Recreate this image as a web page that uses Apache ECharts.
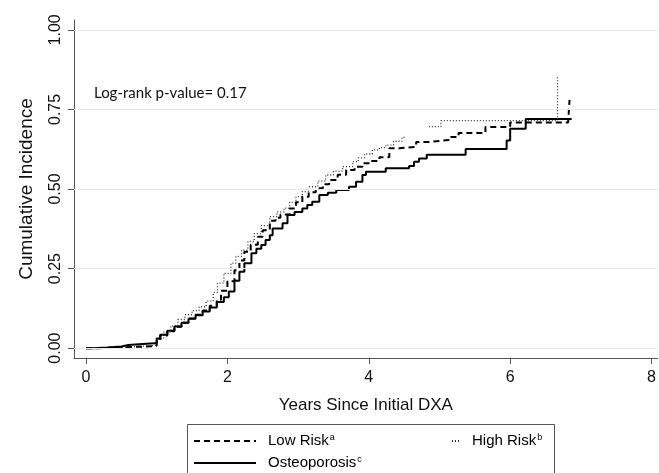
<!DOCTYPE html>
<html>
<head>
<meta charset="utf-8">
<script src="https://cdn.jsdelivr.net/npm/echarts@6/dist/echarts.min.js"></script>
<style>html,body{margin:0;padding:0;background:#fff}#c{width:659px;height:473px}</style>
</head>
<body>
<div id="c"></div>
<script>
const xTicks = [0, 2, 4, 6, 8];
const yTicks = [0, 0.25, 0.5, 0.75, 1];
const seriesNames = ['Low Risk', 'High Risk', 'Osteoporosis'];
const superscripts = {'Low Risk': 'a', 'High Risk': 'b', 'Osteoporosis': 'c'};
const annotation = 'Log-rank p-value= 0.17';

const lowRisk = [[0,0],[0.2,0.002],[0.5,0.004],[0.7,0.006],[0.97,0.008],[1.0,0.025],[1.05,0.04],[1.15,0.053],[1.25,0.067],[1.35,0.08],[1.45,0.093],[1.55,0.105],[1.65,0.118],[1.75,0.133],[1.85,0.152],[1.91,0.18],[2.0,0.21],[2.1,0.245],[2.17,0.275],[2.24,0.303],[2.33,0.325],[2.43,0.35],[2.5,0.37],[2.6,0.4],[2.68,0.41],[2.75,0.42],[2.88,0.439],[2.97,0.458],[3.06,0.476],[3.15,0.49],[3.25,0.502],[3.35,0.515],[3.44,0.528],[3.56,0.545],[3.68,0.56],[3.8,0.57],[3.91,0.581],[4.0,0.588],[4.15,0.6],[4.29,0.628],[4.43,0.632],[4.67,0.648],[4.85,0.654],[5.13,0.663],[5.27,0.676],[5.65,0.695],[6.0,0.709],[6.82,0.709],[6.84,0.78]];

const highRisk = [[0,0],[0.3,0.004],[0.6,0.008],[0.97,0.012],[1.0,0.03],[1.1,0.05],[1.2,0.07],[1.3,0.09],[1.4,0.105],[1.5,0.118],[1.6,0.13],[1.7,0.148],[1.8,0.175],[1.86,0.204],[1.95,0.235],[2.05,0.267],[2.12,0.288],[2.2,0.308],[2.29,0.335],[2.38,0.36],[2.48,0.385],[2.6,0.413],[2.7,0.428],[2.8,0.44],[2.88,0.458],[2.97,0.476],[3.06,0.492],[3.16,0.507],[3.28,0.525],[3.39,0.544],[3.5,0.556],[3.63,0.57],[3.77,0.586],[3.85,0.598],[3.94,0.61],[4.05,0.623],[4.15,0.63],[4.24,0.638],[4.35,0.65],[4.47,0.66],[4.5,0.665],[4.5,null],[4.85,0.696],[5.02,0.696],[5.02,0.715],[6.67,0.715],[6.67,0.852]];

const osteoporosis = [[0,0],[0.1,0.002],[0.3,0.005],[0.5,0.01],[0.6,0.013],[0.8,0.015],[0.97,0.017],[1.0,0.03],[1.05,0.042],[1.15,0.055],[1.25,0.068],[1.35,0.08],[1.45,0.092],[1.55,0.103],[1.65,0.115],[1.75,0.128],[1.85,0.145],[1.95,0.16],[2.02,0.178],[2.1,0.212],[2.17,0.24],[2.24,0.267],[2.34,0.298],[2.41,0.312],[2.48,0.324],[2.54,0.34],[2.6,0.355],[2.64,0.376],[2.78,0.392],[2.85,0.418],[2.95,0.428],[3.06,0.439],[3.13,0.45],[3.2,0.46],[3.3,0.481],[3.42,0.488],[3.54,0.497],[3.72,0.507],[3.82,0.523],[3.91,0.544],[3.96,0.554],[4.24,0.565],[4.57,0.572],[4.64,0.586],[4.71,0.596],[4.82,0.608],[5.37,0.626],[5.95,0.652],[6.0,0.689],[6.22,0.72],[6.87,0.72]];

const FONT = '"Liberation Sans", Arial, sans-serif';
const chart = echarts.init(document.getElementById('c'), null, {renderer: 'canvas'});

const rich = {
  n: {fontSize: 15, fontFamily: FONT, color: '#000', padding: [0, 0, 0, 7]},
  s: {fontSize: 9, fontFamily: FONT, color: '#000', verticalAlign: 'top', padding: [0, 0, 7, 1]}
};
function legendCfg(name, left, top, w) {
  return {
    data: [name], left: left, top: top, orient: 'horizontal', padding: 0,
    itemWidth: w, itemHeight: 12, selectedMode: false,
    itemStyle: {opacity: 0},
    formatter: n => '{n|' + n + '}{s|' + superscripts[n] + '}',
    textStyle: {rich: rich}
  };
}

chart.setOption({
  animation: false,
  backgroundColor: '#fff',
  grid: {left: 74, right: 0, top: 20, bottom: 115},
  xAxis: {
    type: 'value', min: -0.17, max: 8.085,
    name: 'Years Since Initial DXA', nameLocation: 'middle', nameGap: 39,
    nameTextStyle: {fontSize: 17, fontFamily: FONT, color: '#111'},
    axisLine: {show: true, onZero: false, lineStyle: {color: '#555', width: 1}},
    axisTick: {show: true, customValues: xTicks, length: 6, lineStyle: {color: '#555'}},
    axisLabel: {customValues: xTicks, fontSize: 16, fontFamily: FONT, color: '#111', margin: 12},
    splitLine: {show: false}
  },
  yAxis: {
    type: 'value', min: -0.031, max: 1.031,
    name: 'Cumulative Incidence', nameLocation: 'middle', nameGap: 38,
    nameTextStyle: {fontSize: 19, fontFamily: FONT, color: '#111'},
    axisLine: {show: true, onZero: false, lineStyle: {color: '#555', width: 1}},
    axisTick: {show: true, customValues: yTicks, length: 6, lineStyle: {color: '#555'}},
    axisLabel: {customValues: yTicks, rotate: 90, fontSize: 16, fontFamily: FONT, color: '#111', margin: 10,
      formatter: v => v.toFixed(2)},
    splitLine: {show: false}
  },
  legend: [
    legendCfg('Low Risk', 193, 433, 62),
    legendCfg('High Risk', 451, 433, 8),
    legendCfg('Osteoporosis', 193, 455, 62)
  ],
  graphic: [
    {type: 'rect', left: 185, top: 422, shape: {width: 367, height: 70},
     style: {fill: 'none', stroke: '#555', lineWidth: 1}, silent: true},
    {type: 'text', left: 94, top: 86,
     style: {text: annotation, font: '15px Lato, "Open Sans", sans-serif', fill: '#111'}}
  ],
  series: [
    {type: 'line', name: 'grid', data: [], silent: true, z: 1,
     markLine: {silent: true, symbol: ['none', 'none'], label: {show: false},
       lineStyle: {color: '#e3ecf1', type: 'solid', width: 1.2},
       data: yTicks.map(v => ({yAxis: v}))}},
    {type: 'line', name: 'Low Risk', data: lowRisk, step: 'end', symbol: 'none', z: 3,
     lineStyle: {color: '#000', width: 2, type: [6, 4]}, itemStyle: {color: '#000'}},
    {type: 'line', name: 'High Risk', data: highRisk, step: 'end', symbol: 'none', z: 2,
     lineStyle: {color: '#333', width: 1.3, type: [1, 2]}, itemStyle: {color: '#333'}},
    {type: 'line', name: 'Osteoporosis', data: osteoporosis, step: 'end', symbol: 'none', z: 4,
     lineStyle: {color: '#000', width: 2}, itemStyle: {color: '#000'}}
  ]
});
</script>
</body>
</html>
